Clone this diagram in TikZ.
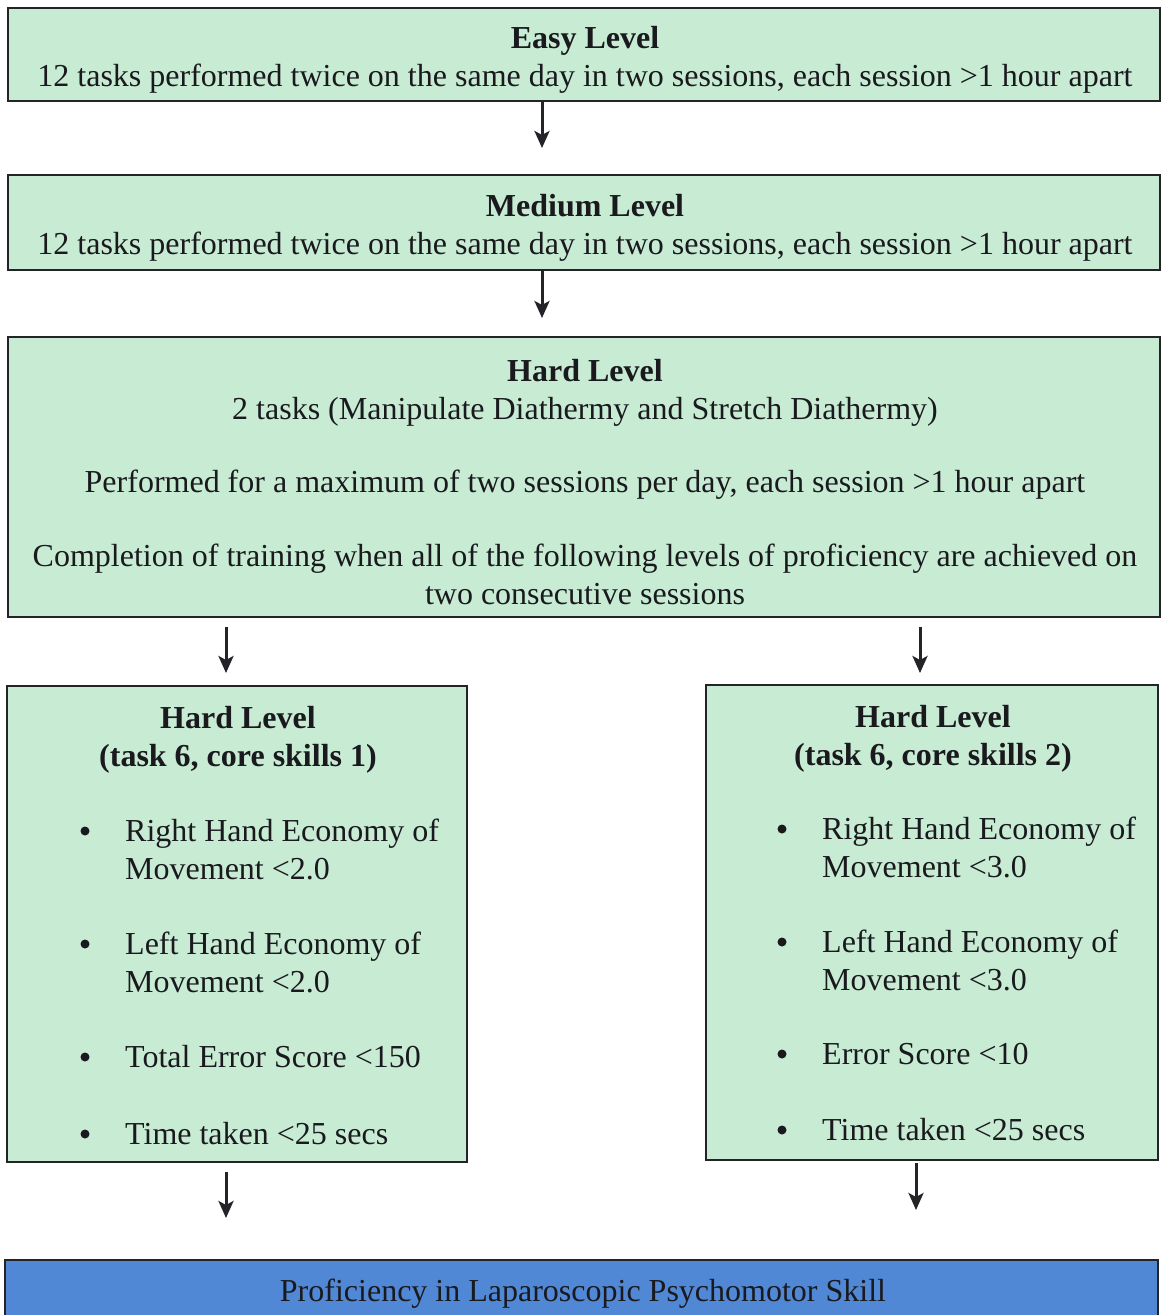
\documentclass[tikz,border=0pt]{standalone}
\usepackage{fontspec}
\setmainfont{Liberation Serif}
\usetikzlibrary{arrows.meta}
\definecolor{mint}{RGB}{200,235,212}
\definecolor{skyblue}{RGB}{80,136,214}
\definecolor{edge}{RGB}{35,35,40}
\definecolor{ink}{RGB}{25,25,30}
\begin{document}
\begin{tikzpicture}[x=1pt,y=-1pt,
  box/.style={draw=edge, line width=2pt, fill=mint, inner sep=0pt},
  txt/.style={font=\fontsize{32}{38}\selectfont, text=ink, inner sep=0pt},
  dot/.style={circle, fill=ink, minimum size=9pt, inner sep=0pt},
  arr/.style={draw=edge, line width=3pt, -{Stealth[length=17pt,width=15pt,inset=4pt]}}]
\path[use as bounding box, clip] (0,0) rectangle (1166,1315);
\fill[white] (0,0) rectangle (1166,1315);

\node[box, minimum width=1152pt, minimum height=93pt] (easy) at (584,54.5) {};
\node[txt, align=center] (easyt) at (585,59.5)
  {\textbf{Easy Level}\\12 tasks performed twice on the same day in two sessions, each session >1 hour apart};
\node[box, minimum width=1152pt, minimum height=95pt] (medium) at (584,222.5) {};
\node[txt, align=center] (mediumt) at (585,227.5)
  {\textbf{Medium Level}\\12 tasks performed twice on the same day in two sessions, each session >1 hour apart};
\node[box, minimum width=1152pt, minimum height=280pt] (hard) at (584,477) {};
\node[txt, align=center] (hardt) at (585,482)
  {\textbf{Hard Level}\\2 tasks (Manipulate Diathermy and Stretch Diathermy)\\[35pt]
   Performed for a maximum of two sessions per day, each session >1 hour apart\\[36pt]
   Completion of training when all of the following levels of proficiency are achieved on\\
   two consecutive sessions};

\node[box, minimum width=460pt, minimum height=476pt] (left) at (237,924) {};
\node[box, minimum width=452pt, minimum height=475pt] (right) at (932,922.5) {};

\node[txt, align=center, font=\fontsize{32}{38}\selectfont\bfseries] (lt) at (238,739.5) {Hard Level\\(task 6, core skills 1)};
\node[txt, align=center, font=\fontsize{32}{38}\selectfont\bfseries] (rt) at (933,738.5) {Hard Level\\(task 6, core skills 2)};

\node[dot] (lb1) at (85,831) {};
\node[dot] (lb2) at (85,944) {};
\node[dot] (lb3) at (85,1057) {};
\node[dot] (lb4) at (85,1134) {};
\node[txt, align=left, anchor=west] (li1) at (125,849.5) {Right Hand Economy of\\Movement <2.0};
\node[txt, align=left, anchor=west] (li2) at (125,962.5) {Left Hand Economy of\\Movement <2.0};
\node[txt, anchor=west] (li3) at (125,1057) {Total Error Score <150};
\node[txt, anchor=west] (li4) at (125,1134) {Time taken <25 secs};

\node[dot] (rb1) at (782,829) {};
\node[dot] (rb2) at (782,942) {};
\node[dot] (rb3) at (782,1054) {};
\node[dot] (rb4) at (782,1130) {};
\node[txt, align=left, anchor=west] (ri1) at (822,847.5) {Right Hand Economy of\\Movement <3.0};
\node[txt, align=left, anchor=west] (ri2) at (822,960.5) {Left Hand Economy of\\Movement <3.0};
\node[txt, anchor=west] (ri3) at (822,1054) {Error Score <10};
\node[txt, anchor=west] (ri4) at (822,1130) {Time taken <25 secs};

\node[draw=edge, line width=2pt, fill=skyblue, inner sep=0pt, minimum width=1153pt, minimum height=62pt] (prof) at (581.5,1291) {};
\node[txt] (proft) at (583,1294) {Proficiency in Laparoscopic Psychomotor Skill};

\coordinate (a1) at (542,148);
\coordinate (a2) at (542,318);
\coordinate (a3) at (226,673);
\coordinate (a4) at (920,673);
\coordinate (a5) at (226,1218);
\coordinate (a6) at (916,1210);
\draw[arr] (easy.south -| a1) -- (a1);
\draw[arr] (medium.south -| a2) -- (a2);
\draw[arr, shorten <=9pt] (hard.south -| a3) -- (a3);
\draw[arr, shorten <=9pt] (hard.south -| a4) -- (a4);
\draw[arr, shorten <=9pt] (left.south -| a5) -- (a5);
\draw[arr, shorten <=2pt] (right.south -| a6) -- (a6);
\end{tikzpicture}
\end{document}
